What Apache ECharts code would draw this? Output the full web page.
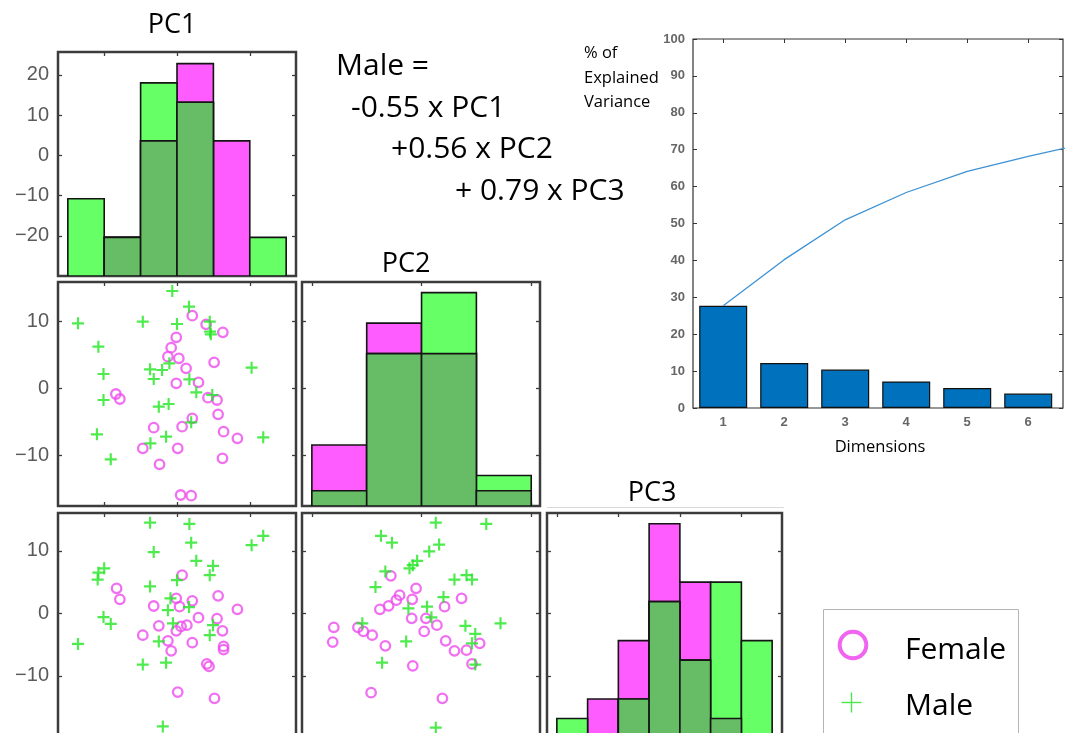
<!DOCTYPE html>
<html>
<head>
<meta charset="utf-8">
<script src="https://cdn.jsdelivr.net/npm/echarts@6/dist/echarts.min.js"></script>
<style>html,body{margin:0;padding:0;background:#fff}#c{width:1073px;height:733px}</style>
</head>
<body>
<div id="c"></div>
<script>
// ---------------- data ----------------
const pc1Edges = [-30, -20, -10, 0, 10, 20, 30];
const pc1Female = [0, 2, 7, 11, 7, 0];
const pc1Male = [4, 2, 10, 9, 0, 2];
const pc2Edges = [-10, -5, 0, 5, 10];
const pc2Female = [4, 12, 10, 1];
const pc2Male = [1, 10, 14, 2];
const pc3Edges = [-20, -15, -10, -5, 0, 5, 10, 15];
const pc3Female = [0, 2, 5, 11, 8, 1, 0];
const pc3Male = [1, 0, 2, 7, 4, 8, 5];

const femalePC1PC2 = [[4.2,10.9],[8.0,9.6],[12.6,8.4],[-0.2,7.65],[-1.6,6.1],[-2.5,4.75],[0.5,4.5],[2.5,3.0],[10.2,3.9],[-0.2,0.75],[5.9,0.9],[-16.8,-0.85],[-15.7,-1.6],[8.5,-1.4],[11.0,-1.75],[11.3,-3.9],[4.2,-4.5],[-6.4,-5.9],[1.4,-5.75],[12.8,-6.5],[16.6,-7.5],[-9.4,-9.0],[0.2,-9.0],[-4.8,-11.4],[12.5,-10.5],[1.0,-16.0],[3.9,-16.1]];
const malePC1PC2 = [[-1.3,14.6],[3.3,12.25],[-27.2,9.75],[-9.4,10.0],[0.0,9.65],[9.0,10.0],[9.1,8.5],[9.3,8.1],[-21.6,6.25],[-20.2,2.15],[-7.4,2.85],[-4.1,2.75],[-2.1,3.75],[-6.4,1.4],[3.4,1.35],[20.5,3.1],[5.3,-0.6],[9.7,-1.0],[-20.2,-1.75],[-5.0,-2.75],[-2.3,-2.35],[3.9,-5.1],[-22.0,-6.9],[-3.0,-7.25],[-7.3,-8.25],[-18.2,-10.65],[23.7,-7.35]];
const femalePC1PC3 = [[1.4,6.1],[-16.6,4.0],[-15.7,2.24],[-6.4,1.17],[-0.2,2.4],[0.7,1.07],[4.2,2.0],[11.3,2.8],[16.6,0.64],[5.9,-0.7],[11.0,-0.85],[-5.0,-2.0],[-0.2,-2.8],[1.1,-2.1],[2.7,-1.9],[-9.4,-3.5],[-2.5,-4.4],[-1.6,-6.0],[4.2,-4.7],[12.5,-2.8],[12.8,-5.3],[12.8,-5.8],[8.2,-8.1],[8.8,-8.5],[0.2,-12.6],[10.3,-13.6]];
const malePC1PC3 = [[-7.4,14.5],[3.4,14.3],[3.9,11.3],[-6.4,9.8],[20.5,10.9],[23.7,12.4],[5.3,8.4],[9.9,7.6],[9.0,6.1],[-20.0,7.2],[-21.6,6.5],[-21.8,5.4],[-7.4,4.3],[0.0,5.3],[-1.8,2.4],[-2.5,0.5],[3.3,1.0],[-20.2,-0.6],[-18.2,-1.7],[-1.1,-1.6],[9.9,-1.9],[9.0,-3.5],[-27.2,-4.9],[-5.0,-4.5],[-9.4,-8.2],[-3.0,-7.9],[-3.9,-18.1]];
const femalePC2PC3 = [[-2.8,6.0],[-0.5,4.0],[-2.0,2.9],[-2.3,2.1],[-3.0,1.2],[-3.8,0.64],[-0.85,2.24],[3.65,2.4],[2.1,1.07],[-0.9,-0.8],[0.4,-0.8],[1.4,-1.9],[-8.0,-2.24],[-5.8,-2.24],[-5.3,-2.9],[-4.5,-3.5],[-8.1,-4.6],[-3.3,-5.2],[0.24,-2.9],[2.2,-4.4],[3.0,-6.0],[4.1,-5.9],[5.3,-4.8],[4.6,-8.1],[-0.8,-8.4],[-4.6,-12.7],[1.9,-13.6]];
const malePC2PC3 = [[1.3,14.5],[5.9,14.3],[-3.7,12.4],[-2.7,11.3],[1.6,11.0],[0.7,9.9],[-0.4,8.4],[-0.8,7.7],[-1.1,7.2],[-3.3,6.7],[3.0,5.4],[4.1,6.1],[4.6,5.4],[-4.2,4.2],[2.0,2.6],[-1.2,0.8],[0.5,1.07],[0.9,-0.64],[-5.4,-1.6],[4.0,-2.0],[7.2,-1.6],[4.9,-3.3],[-1.4,-4.5],[4.6,-4.8],[-3.6,-7.9],[4.9,-8.2],[1.3,-18.3]];

const dimensions = [1, 2, 3, 4, 5, 6];
const explained = [27.7, 12.2, 10.4, 7.2, 5.4, 3.9];
const cumulativeDims = [1, 2, 3, 4, 5, 6, 7];
const cumulative = [27.7, 40.2, 51.0, 58.4, 64.1, 68.2, 71.9];

const row1Ticks = [-20, -10, 0, 10, 20];
const pc2RowTicks = [-10, 0, 10];
const pc3RowTicks = [-10, 0, 10];
const pc1ColTicks = [-20, 0, 20];
const pc2ColTicks = [-10, 0, 10];
const pc3ColTicks = [-20, -10, 0, 10];
const screeYTicks = [0, 10, 20, 30, 40, 50, 60, 70, 80, 90, 100];

// ---------------- colours ----------------
const MAG = '#ff5cff', LGREEN = '#66ff66', DGREEN = '#66bd66';
const SC_MAG = '#ee4cee', SC_GREEN = '#22e622';
const BORDER = '#3c3c3c';

// ---------------- layout ----------------
const grids = [
  {left: 58, top: 52, width: 238, height: 224},   // 0 PC1 hist
  {left: 58, top: 282, width: 238, height: 224},  // 1 PC1 vs PC2
  {left: 302, top: 282, width: 238, height: 224}, // 2 PC2 hist
  {left: 58, top: 513, width: 238, height: 225},  // 3 PC1 vs PC3
  {left: 302, top: 513, width: 238, height: 225}, // 4 PC2 vs PC3
  {left: 547, top: 513, width: 235, height: 225}, // 5 PC3 hist
  {left: 693, top: 39, width: 370, height: 369}   // 6 scree
].map((g, i) => Object.assign({show: true, borderColor: BORDER, borderWidth: 2.5, backgroundColor: '#fff', outerBoundsMode: 'none', containLabel: false}, g));
grids[6].borderWidth = 1.2; grids[6].borderColor = '#333';

const colRange = {
  pc1: [-32.7, 32.7, pc1ColTicks],
  pc2: [-10.9, 10.8, pc2ColTicks],
  pc3: [-21.6, 16.6, pc3ColTicks]
};
const rowRange = {
  r1: [-30, 25.7, row1Ticks],
  pc2: [-17.65, 15.95, pc2RowTicks],
  pc3: [-19.95, 16.05, pc3RowTicks]
};

const fmt = v => String(v).replace('-', '\u2212');
const tick = (vals) => ({show: true, inside: true, length: 4, customValues: vals, lineStyle: {color: BORDER, width: 1.3}});
const noLine = {show: false, onZero: false};

const xAxes = [], yAxes = [];
function addX(grid, r) {
  const base = {gridIndex: grid, type: 'value', min: r[0], max: r[1], splitLine: {show: false}, axisLine: noLine, axisLabel: {show: false}};
  xAxes.push(Object.assign({}, base, {position: 'bottom', axisTick: tick(r[2])}));
  const idx = xAxes.length - 1;
  xAxes.push(Object.assign({}, base, {position: 'top', axisTick: tick(r[2])}));
  return idx;
}
function addY(grid, r, labels) {
  const base = {gridIndex: grid, type: 'value', min: r[0], max: r[1], splitLine: {show: false}, axisLine: noLine};
  yAxes.push(Object.assign({}, base, {position: 'left', axisTick: tick(r[2]),
    axisLabel: labels ? {show: true, customValues: r[2], formatter: fmt, margin: 9, fontFamily: 'Liberation Sans', fontSize: 20, color: '#5a5a5a'} : {show: false}}));
  const idx = yAxes.length - 1;
  yAxes.push(Object.assign({}, base, {position: 'right', axisTick: tick(r[2]), axisLabel: {show: false}}));
  return idx;
}
function addCount(grid, max) {
  yAxes.push({gridIndex: grid, type: 'value', min: 0, max: max, show: false, axisLine: noLine, splitLine: {show: false}});
  return yAxes.length - 1;
}

const series = [];
function histRender(color) {
  return function (params, api) {
    const p0 = api.coord([api.value(0), 0]);
    const p1 = api.coord([api.value(1), api.value(2)]);
    return {type: 'rect', shape: {x: p0[0], y: p1[1], width: p1[0] - p0[0], height: p0[1] - p1[1]},
      style: {fill: color, stroke: '#141414', lineWidth: 1.6}};
  };
}
function addHist(xi, yi, edges, female, male) {
  const mk = (counts) => counts.map((c, i) => [edges[i], edges[i + 1], c]).filter(d => d[2] > 0);
  const overlap = female.map((f, i) => Math.min(f, male[i]));
  [[female, MAG, 'Female'], [male, LGREEN, 'Male'], [overlap, DGREEN, 'Both']].forEach(([c, col, name]) => {
    series.push({type: 'custom', name: name, xAxisIndex: xi, yAxisIndex: yi, clip: true,
      encode: {x: [0, 1], y: 2}, renderItem: histRender(col), data: mk(c), silent: true});
  });
}
const CROSS = 'path://M4.1,0h1.8v4.1h4.1v1.8h-4.1v4.1h-1.8v-4.1h-4.1v-1.8h4.1z';
function addScatter(xi, yi, fem, mal) {
  series.push({type: 'scatter', name: 'Female', xAxisIndex: xi, yAxisIndex: yi, symbol: 'circle', symbolSize: 9.5,
    itemStyle: {color: 'rgba(0,0,0,0)', borderColor: SC_MAG, borderWidth: 2.3}, data: fem, silent: true});
  series.push({type: 'scatter', name: 'Male', xAxisIndex: xi, yAxisIndex: yi, symbol: CROSS, symbolSize: 12,
    itemStyle: {color: SC_GREEN}, data: mal, silent: true});
}

// grid 0: PC1 hist
let xi = addX(0, colRange.pc1); addY(0, rowRange.r1, true); let ci = addCount(0, 11.6);
addHist(xi, ci, pc1Edges, pc1Female, pc1Male);
// grid 1: PC1 vs PC2
xi = addX(1, colRange.pc1); let yi = addY(1, rowRange.pc2, true);
addScatter(xi, yi, femalePC1PC2, malePC1PC2);
// grid 2: PC2 hist
xi = addX(2, colRange.pc2); addY(2, rowRange.pc2, false); ci = addCount(2, 14.7);
addHist(xi, ci, pc2Edges, pc2Female, pc2Male);
// grid 3: PC1 vs PC3
xi = addX(3, colRange.pc1); yi = addY(3, rowRange.pc3, true);
addScatter(xi, yi, femalePC1PC3, malePC1PC3);
// grid 4: PC2 vs PC3
xi = addX(4, colRange.pc2); yi = addY(4, rowRange.pc3, false);
addScatter(xi, yi, femalePC2PC3, malePC2PC3);
// grid 5: PC3 hist
xi = addX(5, colRange.pc3); addY(5, rowRange.pc3, false); ci = addCount(5, 11.55);
addHist(xi, ci, pc3Edges, pc3Female, pc3Male);

// grid 6: scree plot
const scTick = (vals) => ({show: true, inside: true, length: 4, customValues: vals, lineStyle: {color: '#333', width: 1}});
const scLabel = {fontFamily: 'Liberation Sans', fontSize: 13, fontWeight: 'bold', color: '#666'};
xAxes.push({gridIndex: 6, type: 'value', min: 0.505, max: 6.57, position: 'bottom', splitLine: {show: false}, axisLine: noLine,
  axisTick: scTick(dimensions), axisLabel: Object.assign({customValues: dimensions, margin: 8}, scLabel)});
const sxi = xAxes.length - 1;
xAxes.push({gridIndex: 6, type: 'value', min: 0.505, max: 6.57, position: 'top', splitLine: {show: false}, axisLine: noLine,
  axisTick: scTick(dimensions), axisLabel: {show: false}});
yAxes.push({gridIndex: 6, type: 'value', min: 0, max: 100, position: 'left', splitLine: {show: false}, axisLine: noLine,
  axisTick: scTick(screeYTicks), axisLabel: Object.assign({customValues: screeYTicks, margin: 8}, scLabel)});
const syi = yAxes.length - 1;
yAxes.push({gridIndex: 6, type: 'value', min: 0, max: 100, position: 'right', splitLine: {show: false}, axisLine: noLine,
  axisTick: scTick(screeYTicks), axisLabel: {show: false}});

series.push({type: 'bar', name: 'Explained', xAxisIndex: sxi, yAxisIndex: syi, barWidth: 48,
  itemStyle: {color: '#0071bc', borderColor: '#111', borderWidth: 1.2},
  data: dimensions.map((d, i) => [d, explained[i]]), silent: true});
series.push({type: 'line', name: 'Cumulative', xAxisIndex: sxi, yAxisIndex: syi, symbol: 'none', clip: true,
  lineStyle: {color: '#3c92d4', width: 1.3}, data: cumulativeDims.map((d, i) => [d, cumulative[i]]), silent: true, z: 3});

// ---------------- texts & legend ----------------
const TF = '"Open Sans", "Noto Sans", sans-serif';
// (x, baseline) -> positioned via vertical middle
const txt = (x, base, text, size, align, color) => ({type: 'text', x: x, y: base - 0.27 * size, silent: true,
  style: {text: text, fontFamily: TF, fontSize: size, fill: color || '#000', align: align || 'left', verticalAlign: 'middle',
    textAlign: align || 'left', textVerticalAlign: 'middle'}});
const graphic = [
  txt(172, 33, 'PC1', 27, 'center'),
  txt(406, 272, 'PC2', 27, 'center'),
  txt(652, 501, 'PC3', 27, 'center'),
  txt(336, 75, 'Male =', 30),
  txt(351, 117, '-0.55 x PC1', 30),
  txt(391, 158, '+0.56 x PC2', 30),
  txt(455, 200, '+ 0.79 x PC3', 30),
  txt(584, 58, '% of', 16.5),
  txt(584, 82.5, 'Explained', 16.5),
  txt(584, 107, 'Variance', 16.5),
  txt(880, 452, 'Dimensions', 16.5, 'center'),
  {type: 'line', silent: true, shape: {x1: 547, y1: 507.5, x2: 784, y2: 507.5}, style: {stroke: '#dadada', lineWidth: 1}},
  {type: 'rect', silent: true, shape: {x: 823.5, y: 609.5, width: 195, height: 150}, style: {fill: '#fff', stroke: '#b4b4b4', lineWidth: 1}},
  {type: 'circle', silent: true, shape: {cx: 853, cy: 645, r: 13.3}, style: {fill: 'none', stroke: '#f064f0', lineWidth: 4}},
  {type: 'line', silent: true, shape: {x1: 841.5, y1: 702.5, x2: 861.5, y2: 702.5}, style: {stroke: '#4ae84a', lineWidth: 1.4}},
  {type: 'line', silent: true, shape: {x1: 851.5, y1: 692.5, x2: 851.5, y2: 712.5}, style: {stroke: '#4ae84a', lineWidth: 1.4}},
  txt(905, 659, 'Female', 30),
  txt(905, 715, 'Male', 30)
];

const chart = echarts.init(document.getElementById('c'), null, {renderer: 'canvas'});
chart.setOption({
  animation: false,
  backgroundColor: '#fff',
  grid: grids,
  xAxis: xAxes,
  yAxis: yAxes,
  series: series,
  graphic: graphic
});
</script>
</body>
</html>
